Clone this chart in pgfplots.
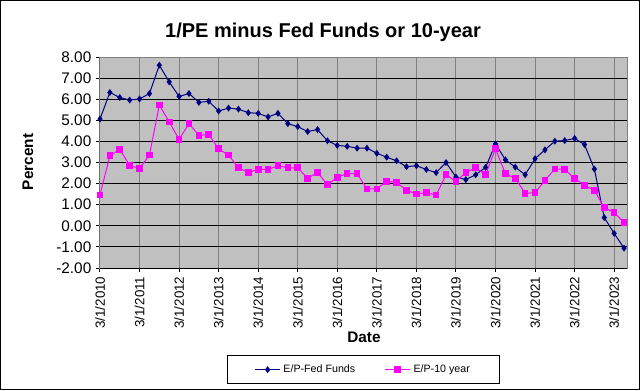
\documentclass[border=0pt]{standalone}
\usepackage{fontspec}
\setmainfont{Liberation Sans}
\usepackage{pgfplots}
\pgfplotsset{compat=1.18}
\definecolor{plotbg}{HTML}{C0C0C0}
\definecolor{gridgray}{HTML}{808080}
\definecolor{navyser}{HTML}{000080}
\definecolor{pinkser}{HTML}{FF00FF}
\pgfplotstableread{
i fed ten
0 5.06 1.46
1 6.32 3.32
2 6.08 3.63
3 5.96 2.86
4 6.01 2.72
5 6.27 3.35
6 7.61 5.72
7 6.82 4.92
8 6.13 4.10
9 6.27 4.84
10 5.85 4.29
11 5.90 4.32
12 5.44 3.65
13 5.58 3.35
14 5.53 2.75
15 5.36 2.53
16 5.33 2.67
17 5.16 2.67
18 5.33 2.85
19 4.84 2.75
20 4.70 2.75
21 4.47 2.25
22 4.56 2.53
23 4.03 1.95
24 3.81 2.30
25 3.77 2.47
26 3.68 2.47
27 3.68 1.75
28 3.44 1.75
29 3.25 2.11
30 3.08 2.06
31 2.80 1.68
32 2.85 1.51
33 2.67 1.57
34 2.52 1.46
35 3.00 2.42
36 2.31 2.11
37 2.19 2.52
38 2.42 2.75
39 2.77 2.42
40 3.88 3.65
41 3.13 2.47
42 2.78 2.25
43 2.42 1.54
44 3.18 1.57
45 3.60 2.15
46 4.01 2.70
47 4.04 2.67
48 4.14 2.25
49 3.85 1.92
50 2.69 1.68
51 0.39 0.86
52 -0.36 0.63
53 -1.06 0.16
}\datatable
\begin{document}
\begin{tikzpicture}
\useasboundingbox (0,0) rectangle (480pt,292.5pt);
\draw[black, line width=0.9pt] (0.45pt,0.45pt) rectangle (479.55pt,292.05pt);
\node[font=\bfseries\fontsize{15}{18}\selectfont] at (242.25pt,268.5pt) {1/PE minus Fed Funds or 10-year};
\node[font=\bfseries\fontsize{11.5}{14}\selectfont, rotate=90] at (21pt,171pt) {Percent};
\node[font=\bfseries\fontsize{11.5}{14}\selectfont] at (273pt,39.75pt) {Date};
\begin{axis}[
  at={(75pt,91.5pt)}, anchor=south west,
  scale only axis, width=395.25pt, height=158.25pt,
  xmin=0, xmax=53.3, ymin=-2, ymax=8,
  axis background/.style={fill=plotbg},
  axis line style={gridgray, line width=0.75pt},
  xtick={0,4,...,52},
  xticklabels={3/1/2010,3/1/2011,3/1/2012,3/1/2013,3/1/2014,3/1/2015,3/1/2016,3/1/2017,3/1/2018,3/1/2019,3/1/2020,3/1/2021,3/1/2022,3/1/2023},
  ytick={-2,-1,...,8},
  xtick pos=lower, ytick pos=left,
  tick align=outside, major tick length=3pt,
  tick style={black, line width=0.75pt},
  xmajorgrids, ymajorgrids,
  x grid style={gridgray, line width=0.75pt},
  y grid style={black, line width=0.75pt},
  /pgf/number format/assume math mode=true,
  yticklabel style={font=\fontsize{11.5}{13}\selectfont, /pgf/number format/.cd, fixed, fixed zerofill, precision=2},
  xticklabel style={font=\fontsize{10}{12}\selectfont, rotate=90, anchor=east},
  legend columns=2,
  legend style={at={(0.5,-0.412)}, anchor=north, draw=black, line width=0.75pt, fill=white,
    font=\fontsize{8}{10}\selectfont, inner xsep=20pt, inner ysep=5pt,
    /tikz/every even column/.append style={column sep=20pt}},
  legend image code/.code={\draw[#1, mark=none, line width=0.75pt] (0pt,0pt) -- (19pt,0pt);
    \draw[#1, only marks] plot coordinates {(9.5pt,0pt)};},
]
\addplot[navyser, line width=0.75pt, mark=diamond*, mark size=2pt, mark options={solid, fill=navyser}] table[x=i, y=fed] {\datatable};
\addlegendentry{E/P-Fed Funds}
\addplot[pinkser, line width=0.75pt, mark=square*, mark size=2.1pt, mark options={solid, fill=pinkser}] table[x=i, y=ten] {\datatable};
\addlegendentry{E/P-10 year}
\draw[black, line width=0.75pt] (rel axis cs:0,1) -- (rel axis cs:0,0) -- (rel axis cs:1,0);
\end{axis}
\end{tikzpicture}
\end{document}
